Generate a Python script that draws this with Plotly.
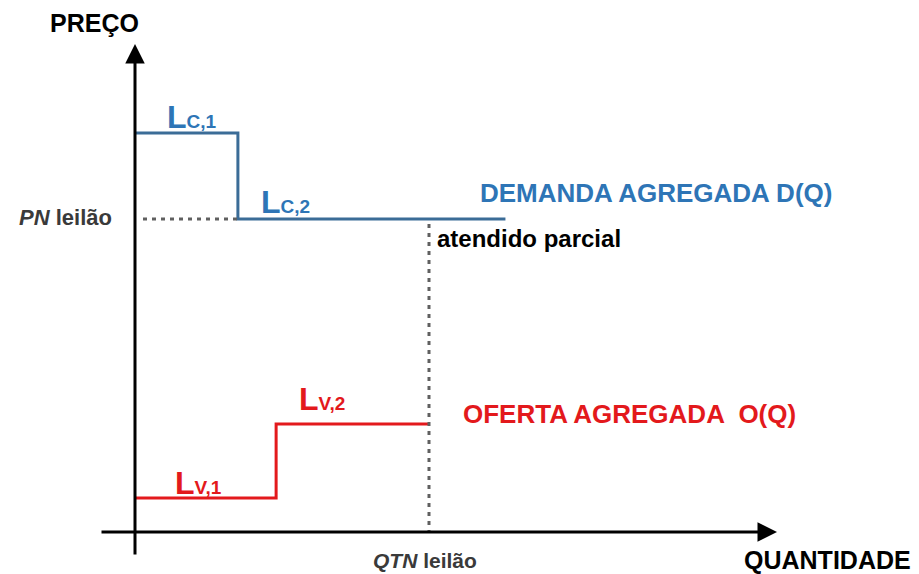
import plotly.graph_objects as go

# ---- data (schematic units) ----
demand_q = [0, 3.5, 12.6]
demand_p = [12.75, 10.0, 10.0]
supply_q = [0, 4.8, 10.0]
supply_p = [1.09, 3.45, 3.45]
PN = 10.0
QTN = 10.0

BLUE_LINE = "#3B6C97"
BLUE_TXT = "#2E75B6"
RED = "#E3191C"
GREY = "#606060"
FONT = "Liberation Sans, Arial, sans-serif"

# pixel->data helpers for layout (plot area spans whole figure)
SX, SY, OX, OY = 29.4, 31.3, 135, 532
def X(px): return (px - OX) / SX
def Y(py): return (OY - py) / SY

fig = go.Figure()
fig.add_trace(go.Scatter(x=demand_q, y=demand_p, mode="lines", line_shape="hv",
                         line=dict(color=BLUE_LINE, width=3), hoverinfo="skip"))
fig.add_trace(go.Scatter(x=supply_q, y=supply_p, mode="lines", line_shape="hv",
                         line=dict(color=RED, width=3), hoverinfo="skip"))
# dotted guides
fig.add_trace(go.Scatter(x=[X(143), demand_q[1]], y=[PN, PN], mode="lines",
                         line=dict(color=GREY, width=3, dash="4px,5px"), hoverinfo="skip"))
fig.add_trace(go.Scatter(x=[QTN, QTN], y=[Y(224), 0], mode="lines",
                         line=dict(color=GREY, width=3, dash="4px,5px"), hoverinfo="skip"))

anns = []
# axes with arrows
anns.append(dict(x=0, y=Y(44), ax=0, ay=Y(556), xref="x", yref="y", axref="x", ayref="y",
                 text="", showarrow=True, arrowhead=2, arrowsize=1.3, arrowwidth=3, arrowcolor="black"))
anns.append(dict(x=X(777), y=0, ax=X(100), ay=0, xref="x", yref="y", axref="x", ayref="y",
                 text="", showarrow=True, arrowhead=2, arrowsize=1.3, arrowwidth=3, arrowcolor="black"))

def txt(x, y, s, size, color, xanchor="center"):
    anns.append(dict(x=x, y=y, xref="x", yref="y", text=s, showarrow=False,
                     xanchor=xanchor, yanchor="middle",
                     font=dict(family=FONT, size=size, color=color)))

SUB = "<span style='font-size:19px'>%s</span>"
txt(X(94), Y(23), "<b>PREÇO</b>", 25, "black")
txt(X(65), Y(217), "<b><i>PN</i> leilão</b>", 22, "#3a3a3a")
txt(X(192), Y(117), "<b>L" + SUB % "C,1" + "</b>", 32, BLUE_TXT)
txt(X(285), Y(202), "<b>L" + SUB % "C,2" + "</b>", 32, BLUE_TXT)
txt(X(656), Y(193), "<b>DEMANDA AGREGADA D(Q)</b>", 26, BLUE_TXT)
txt(X(529), Y(238), "<b>atendido parcial</b>", 24, "black")
txt(X(322), Y(399), "<b>L" + SUB % "V,2" + "</b>", 32, RED)
txt(X(629), Y(414), "<b>OFERTA AGREGADA  O(Q)</b>", 26, RED)
txt(X(198), Y(483), "<b>L" + SUB % "V,1" + "</b>", 32, RED)
txt(X(425), Y(560), "<b><i>QTN</i> leilão</b>", 21, "#3a3a3a")
txt(X(827), Y(560), "<b>QUANTIDADE</b>", 25, "black")

fig.update_layout(
    width=919, height=574, margin=dict(l=0, r=0, t=0, b=0),
    paper_bgcolor="white", plot_bgcolor="white", showlegend=False,
    xaxis=dict(range=[X(0), X(919)], visible=False, fixedrange=True),
    yaxis=dict(range=[Y(574), Y(0)], visible=False, fixedrange=True),
    annotations=anns,
)
fig.write_html("out.html", config={"displayModeBar": False},
               post_script="document.body.style.margin='0';document.body.style.overflow='hidden';")
